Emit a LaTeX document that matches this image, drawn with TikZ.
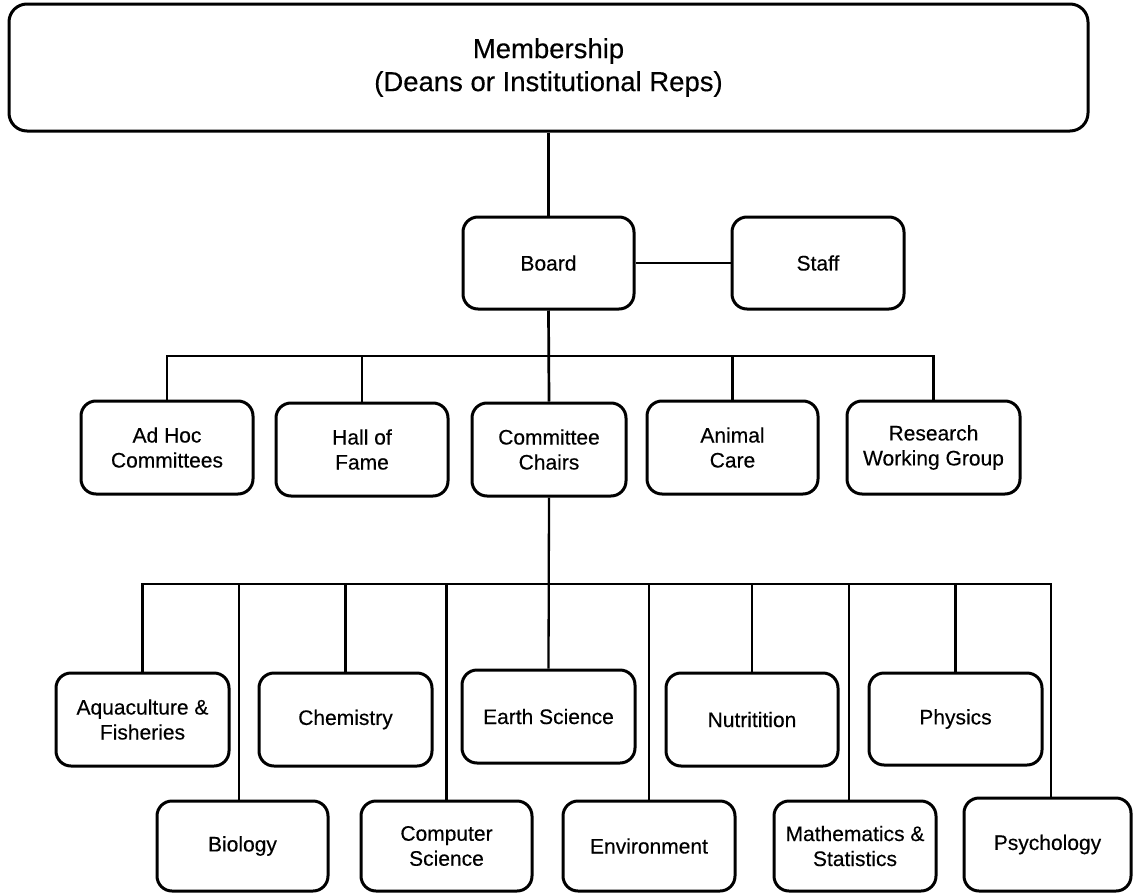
\documentclass[tikz,border=0pt]{standalone}
\usepackage{fontspec}
\setmainfont{Liberation Sans}[BoldFont=Liberation Sans, BoldFeatures={FakeBold=0.35}]
\begin{document}
\begin{tikzpicture}[x=1pt,y=-1pt,
  box/.style={draw, line width=3pt, rounded corners=15pt, inner sep=0pt, align=center,
    font=\fontsize{21}{25}\selectfont\bfseries},
  bigbox/.style={box, rounded corners=18pt, font=\fontsize{27.5}{33}\selectfont\bfseries},
  conn/.style={line width=2.7pt},
  connb/.style={line width=2.3pt}]
\useasboundingbox (0,0) rectangle (1133,894);

% top
\node[bigbox, minimum width=1079pt, minimum height=127pt] (member) at (548.5,67.5) {Membership\\(Deans or Institutional Reps)};
\node[box, minimum width=171pt, minimum height=92pt] (board) at (548.5,263) {Board};
\node[box, minimum width=172pt, minimum height=92pt] (staff) at (818,263) {Staff};

% second row
\node[box, minimum width=172pt, minimum height=93pt] (adhoc) at (167,447.5) {Ad Hoc\\Committees};
\node[box, minimum width=172pt, minimum height=93pt] (hall) at (362,449.5) {Hall of\\Fame};
\node[box, minimum width=154pt, minimum height=93pt] (chairs) at (549,449.5) {Committee\\Chairs};
\node[box, minimum width=171pt, minimum height=93pt] (animal) at (732.5,447.5) {Animal\\Care};
\node[box, minimum width=173pt, minimum height=93pt] (research) at (933.5,447.5) {Research\\Working Group};

% third row
\node[box, minimum width=173pt, minimum height=93pt] (aqua) at (142.5,719.5) {Aquaculture \&\\Fisheries};
\node[box, minimum width=173pt, minimum height=93pt] (chem) at (345.5,719.5) {Chemistry};
\node[box, minimum width=173pt, minimum height=93pt] (earth) at (548.5,716.5) {Earth Science};
\node[box, minimum width=172pt, minimum height=93pt] (nutr) at (752,719.5) {Nutritition};
\node[box, minimum width=173pt, minimum height=92pt] (phys) at (955.5,719) {Physics};

% fourth row
\node[box, minimum width=171pt, minimum height=90pt] (bio) at (242.5,846) {Biology};
\node[box, minimum width=171pt, minimum height=90pt] (cs) at (446.5,846) {Computer\\Science};
\node[box, minimum width=172pt, minimum height=90pt] (env) at (649,846) {Environment};
\node[box, minimum width=162pt, minimum height=90pt] (math) at (855,846) {Mathematics \&\\Statistics};
\node[box, minimum width=167pt, minimum height=93pt] (psych) at (1047.5,844.5) {Psychology};

\coordinate (b1) at (0,356);
\coordinate (b2) at (0,584);
\coordinate (biotop) at ([xshift=-3.5pt]bio.north);
\coordinate (mathtop) at ([xshift=-6pt]math.north);
\coordinate (psychtop) at ([xshift=3.5pt]psych.north);

% connectors, upper part
\draw[conn] (member.south) -- (board.north);
\draw[conn] (board.east) -- (staff.west);
\draw[conn] (board.south) -- (chairs.north);
\draw[conn] (adhoc.north) -- (adhoc.north |- b1) -- (research.north |- b1) -- (research.north);
\draw[conn] (hall.north) -- (hall.north |- b1);
\draw[conn] (animal.north) -- (animal.north |- b1);

% connectors, lower part
\draw[connb] (chairs.south) -- (earth.north);
\draw[connb] (aqua.north) -- (aqua.north |- b2) -- (psychtop |- b2) -- (psychtop);
\draw[connb] (biotop |- b2) -- (biotop);
\draw[connb] (chem.north) -- (chem.north |- b2);
\draw[connb] (cs.north |- b2) -- (cs.north);
\draw[connb] (env.north |- b2) -- (env.north);
\draw[connb] (nutr.north) -- (nutr.north |- b2);
\draw[connb] (mathtop |- b2) -- (mathtop);
\draw[connb] (phys.north) -- (phys.north |- b2);
\end{tikzpicture}
\end{document}
